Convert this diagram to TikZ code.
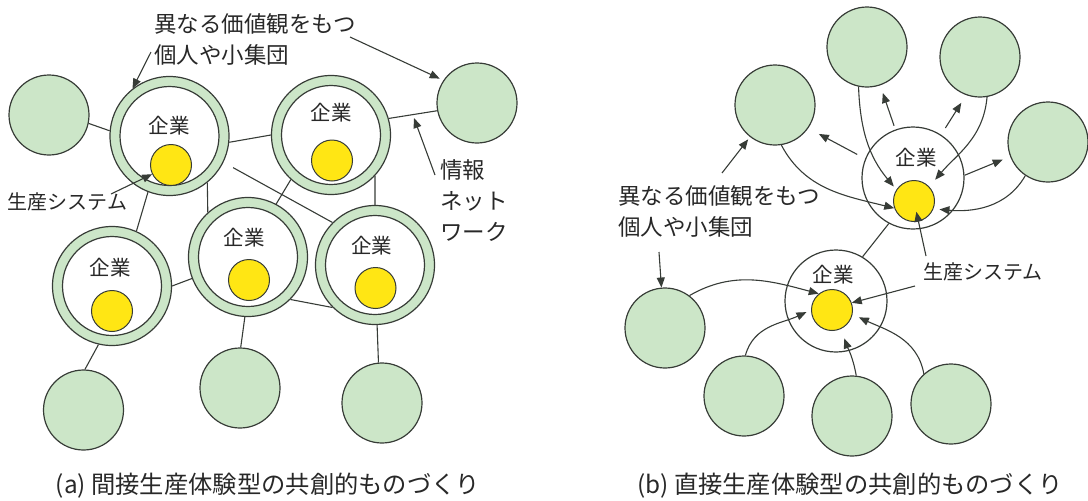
\documentclass[tikz,border=0pt]{standalone}
\usepackage{fontspec}
\newfontfamily\jpfont{Noto Sans CJK JP}
\usetikzlibrary{arrows.meta}
\definecolor{grn}{RGB}{204,230,200}
\definecolor{edgec}{RGB}{55,60,55}
\definecolor{yel}{RGB}{255,230,20}
\definecolor{txtc}{RGB}{40,40,40}
\tikzset{
  gr/.style={circle, draw=edgec, fill=grn, line width=1.2pt, minimum size=80pt, inner sep=0pt},
  ringo/.style={circle, draw=edgec, fill=grn, line width=1.2pt, minimum size=119pt, inner sep=0pt},
  ringi/.style={circle, draw=edgec, fill=white, line width=1.2pt, minimum size=99pt, inner sep=0pt},
  core/.style={circle, draw=edgec, fill=yel, line width=1pt, minimum size=41pt, inner sep=0pt},
  firm/.style={circle, draw=edgec, fill=white, line width=1.2pt, minimum size=102pt, inner sep=0pt},
  lbl/.style={font=\jpfont\fontsize{22.5}{31}\selectfont, text=txtc, inner sep=0pt, align=left},
  firmlbl/.style={font=\jpfont\fontsize{20.5}{23}\selectfont, text=txtc, inner sep=0pt},
  syslbl/.style={font=\jpfont\fontsize{20}{23}\selectfont, text=txtc, inner sep=0pt},
  caplbl/.style={font=\jpfont\fontsize{24.3}{27}\selectfont, text=txtc, inner sep=0pt},
  link/.style={draw=edgec, line width=1.1pt},
  arr/.style={link, -{Triangle[length=10pt,width=8pt]}}
}
\begin{document}
\begin{tikzpicture}[x=1pt,y=1pt]
\useasboundingbox (0,0) rectangle (1088,-501);
% ---------------- left panel ----------------
\node[gr] (la) at (49,-115) {};
\node[gr] (ra) at (477,-103) {};
\node[gr] (g1) at (83.5,-410) {};
\node[gr] (g2) at (240,-388) {};
\node[gr] (g3) at (382,-403) {};
\node[ringo] (c1) at (169.5,-136) {};
\node[ringi] (c1i) at (c1) {};
\node[core] (c1y) at (171,-165) {};
\node[firmlbl] (c1t) at (169,-126) {企業};
\node[ringo] (c2) at (331,-135) {};
\node[ringi] (c2i) at (c2) {};
\node[core] (c2y) at (332,-160.5) {};
\node[firmlbl] (c2t) at (331,-113) {企業};
\node[ringo] (c3) at (112,-286) {};
\node[ringi] (c3i) at (c3) {};
\node[core] (c3y) at (112,-311) {};
\node[firmlbl] (c3t) at (110,-268) {企業};
\node[ringo] (c4) at (248,-257) {};
\node[ringi] (c4i) at (c4) {};
\node[core] (c4y) at (249,-280) {};
\node[firmlbl] (c4t) at (244,-238) {企業};
\node[ringo] (c5) at (375,-265) {};
\node[ringi] (c5i) at (c5) {};
\node[core] (c5y) at (375.5,-288) {};
\node[firmlbl] (c5t) at (371.5,-246) {企業};
% links
\draw[link] (la.-12) -- (c1.175);
\draw[link] (c1.-6) -- (c2.180);
\draw[link] (c2.16) -- (ra.191);
\draw[link, shorten <=11pt] (c1.-26) -- (c5.135);
\draw[link] (c1.-51) -- (c4.132);
\draw[link] (c1.-111) -- (c3.66);
\draw[link] (c2.228) -- (c4.62);
\draw[link] (c2.-43) -- (c5.90);
\draw[link] (c3.0) -- (c4.201);
\draw[link] (c4.-45) -- (c5.225);
\draw[link] (c3.-103) -- (g1.88);
\draw[link] (c4.-93) -- (g2.89);
\draw[link] (c5.-88) -- (g3.95);
% labels
\node[lbl, anchor=north west] (lt) at (154,-13) {異なる価値観をもつ\\個人や小集団};
\coordinate (lt1) at (151,-52);
\coordinate (lt2) at (350,-37);
\draw[arr] (lt1) -- (c1.128);
\draw[arr, shorten >=4pt] (lt2) -- (ra.146);
\node[syslbl] (lsp) at (67.5,-202) {生産システム};
\coordinate (lsp1) at (111,-194);
\draw[arr] (lsp1) -- (c1y.206);
\node[lbl, anchor=north west] (net) at (440,-159) {情報\\ネット\\ワーク};
\coordinate (net1) at (435,-175);
\coordinate (net2) at (414,-118);
\draw[arr] (net1) -- (net2);
\node[caplbl] (capa) at (268,-486) {(a) 間接生産体験型の共創的ものづくり};
% ---------------- right panel ----------------
\node[gr] (gb1) at (775,-105) {};
\node[gr] (gb2) at (867,-47) {};
\node[gr] (gb3) at (980,-57) {};
\node[gr] (gb4) at (1048,-142) {};
\node[gr] (gc1) at (665,-328) {};
\node[gr] (gc2) at (744,-396) {};
\node[gr] (gc3) at (852,-416) {};
\node[gr] (gc4) at (951,-404) {};
\node[firm] (a) at (913,-178) {};
\node[core] (ya) at (914,-201) {};
\node[firmlbl] (at) at (916,-158) {企業};
\node[firm] (b) at (836,-301) {};
\node[core] (yb) at (832,-310) {};
\node[firmlbl] (bt) at (833,-275) {企業};
\draw[link] (a.-118) -- (b.59);
% upper cluster arrows
\draw[arr] (gb1.-81) to[out=-62, in=166] (ya.200);
\draw[arr, shorten <=9pt, shorten >=12pt] (a.158) -- (gb1.-35);
\draw[arr, shorten >=4pt] (gb2.-102) to[out=-88, in=130] (ya.147);
\draw[arr, shorten <=4pt, shorten >=8pt] (a.110) -- (gb2.-71);
\draw[arr, shorten <=8pt, shorten >=9pt] (a.57) -- (gb3.-110);
\draw[arr, shorten >=9pt] (gb3.-80) to[out=-95, in=50] (ya.43);
\draw[arr, shorten >=8pt] (a.3) -- (gb4.201);
\draw[arr, shorten >=6pt] (gb4.-124) to[out=-120, in=-5] (ya.-22);
% lower cluster arrows
\draw[arr] (gc1.53) to[out=30, in=165] (yb.129);
\draw[arr, shorten >=5pt] (gc2.88) to[out=75, in=-155] (yb.180);
\draw[arr, shorten >=10pt] (gc3.84) to[out=100, in=-70] (yb.-65);
\draw[arr, shorten >=7pt] (gc4.132) to[out=100, in=-25] (yb.-12);
% labels
\node[lbl, anchor=north west] (rt) at (618,-185) {異なる価値観をもつ\\個人や小集団};
\coordinate (rt1) at (722,-173);
\coordinate (rt2) at (659,-252);
\draw[arr, shorten >=3pt] (rt1) -- (gb1.-128);
\draw[arr] (rt2) -- (gc1.95);
\node[syslbl] (rsp) at (983,-272) {生産システム};
\coordinate (rsp1) at (926,-256);
\coordinate (rsp2) at (915,-286);
\draw[arr, shorten >=11pt] (rsp1) -- (ya.center);
\draw[arr] (rsp2) -- (yb.20);
\node[caplbl] (capb) at (850,-486) {(b) 直接生産体験型の共創的ものづくり};
\end{tikzpicture}
\end{document}
